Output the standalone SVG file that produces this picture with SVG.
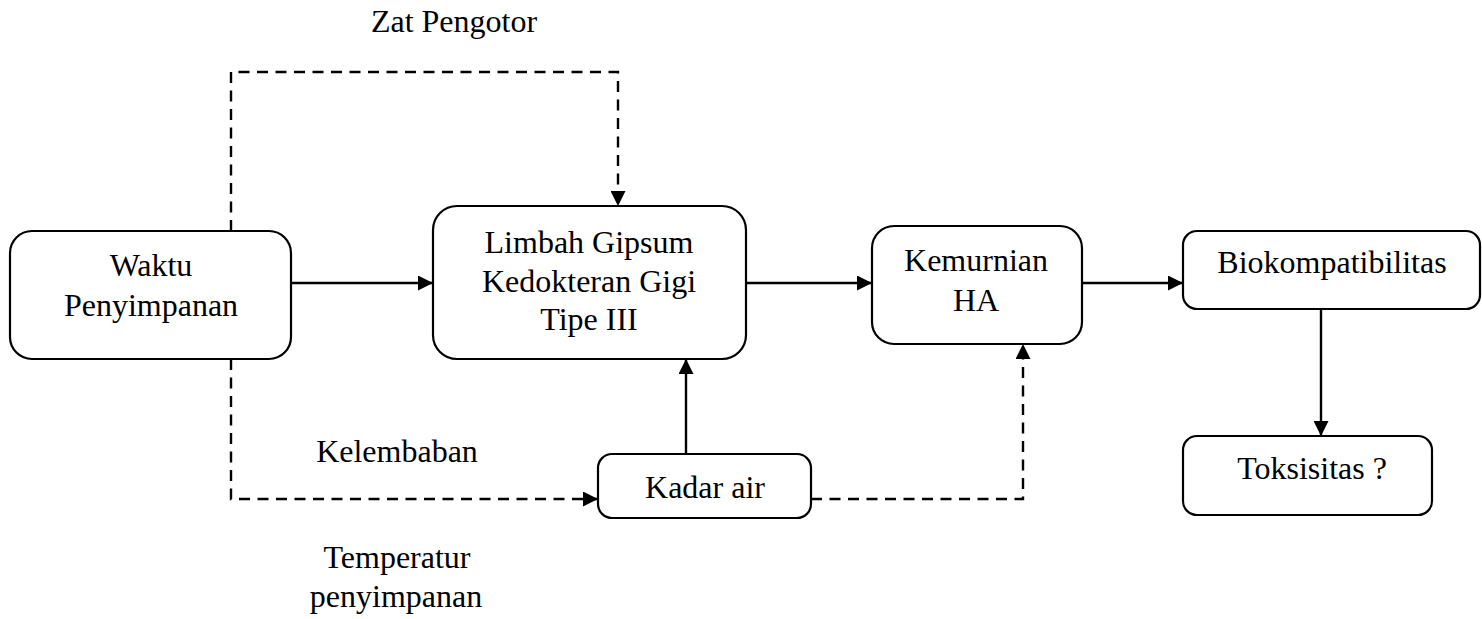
<svg xmlns="http://www.w3.org/2000/svg" width="1482" height="619" viewBox="0 0 1482 619">
<defs>
<marker id="ah" viewBox="0 0 15 15" refX="15" refY="7.5" markerWidth="15" markerHeight="15" markerUnits="userSpaceOnUse" orient="auto">
<path d="M0,0 L15,7.5 L0,15 Z" fill="#000"/>
</marker>
</defs>
<style>
.box{fill:#fff;stroke:#000;stroke-width:2.2}
.t{font-family:"Liberation Serif","Times New Roman",serif;font-size:32px;fill:#000;text-anchor:middle}
.solid{fill:none;stroke:#000;stroke-width:2.4}
.dash{fill:none;stroke:#000;stroke-width:2.4;stroke-dasharray:11 7.5}
</style>
<rect width="1482" height="619" fill="#fff"/>
<g id="connectors">
<path class="solid" d="M291,283 L433,283" marker-end="url(#ah)"/>
<path class="solid" d="M746,283 L872,283" marker-end="url(#ah)"/>
<path class="solid" d="M1082,283 L1183,283" marker-end="url(#ah)"/>
<path class="solid" d="M1321,309 L1321,436" marker-end="url(#ah)"/>
<path class="solid" d="M686,454 L686,359" marker-end="url(#ah)"/>
<path class="dash" d="M231,231 L231,72 L618,72 L618,206" marker-end="url(#ah)"/>
<path class="dash" d="M231,359 L231,499 L598,499" marker-end="url(#ah)"/>
<path class="dash" d="M811,499 L1023,499 L1023,344" marker-end="url(#ah)"/>
</g>
<g id="waktu">
<rect class="box" x="10" y="231" width="281" height="128" rx="22"/>
<text class="t" x="151" y="276">Waktu</text>
<text class="t" x="151" y="316">Penyimpanan</text>
</g>
<g id="limbah">
<rect class="box" x="433" y="206" width="313" height="153" rx="24"/>
<text class="t" x="589" y="253">Limbah Gipsum</text>
<text class="t" x="589" y="292">Kedokteran Gigi</text>
<text class="t" x="589" y="330">Tipe III</text>
</g>
<g id="kemurnian">
<rect class="box" x="872" y="226" width="210" height="118" rx="22"/>
<text class="t" x="976" y="271">Kemurnian</text>
<text class="t" x="976" y="311">HA</text>
</g>
<g id="bio">
<rect class="box" x="1183" y="231" width="297" height="78" rx="14"/>
<text class="t" x="1332" y="273">Biokompatibilitas</text>
</g>
<g id="toks">
<rect class="box" x="1183" y="436" width="249" height="79" rx="14"/>
<text class="t" x="1312" y="479">Toksisitas ?</text>
</g>
<g id="kadar">
<rect class="box" x="598" y="454" width="213" height="64" rx="14"/>
<text class="t" x="705" y="498">Kadar air</text>
</g>
<g id="labels">
<text class="t" x="454" y="32">Zat Pengotor</text>
<text class="t" x="397" y="462">Kelembaban</text>
<text class="t" x="397" y="568">Temperatur</text>
<text class="t" x="396" y="607">penyimpanan</text>
</g>
</svg>
